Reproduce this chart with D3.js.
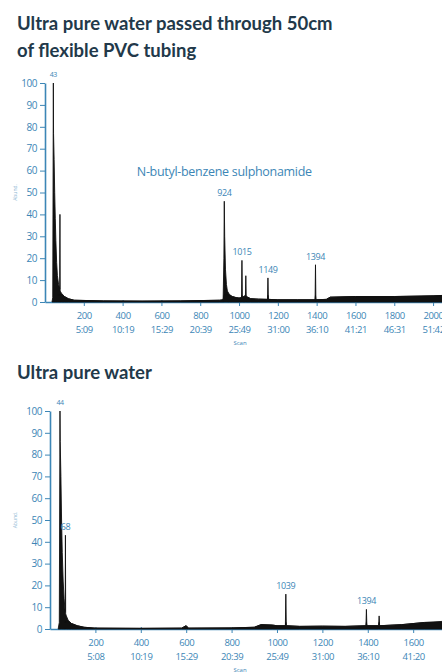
<!DOCTYPE html>
<html>
<head>
<meta charset="utf-8">
<script src="https://cdn.jsdelivr.net/npm/d3@7"></script>
<style>
  body { margin: 0; background: #fff; }
  svg { display: block; }
  .title { font-family: Lato, "Open Sans", sans-serif; font-weight: 700; font-size: 18.5px; fill: #22394a; }
  .axis path, .axis line { stroke: #3c86b6; }
  .axis text { font-family: "Open Sans", sans-serif; fill: #3c86b6; }
  .lbl { font-family: "Open Sans", sans-serif; fill: #3c86b6; }
</style>
</head>
<body>
<svg id="chart" width="442" height="672"></svg>
<script>
// ---- data ----
// top: water through PVC tubing  [scan, abundance %]
var pvcScans = [36, 40, 43, 44, 47, 50, 53, 56, 60, 64, 70, 76, 77, 78, 85, 100, 120, 150, 300, 500, 700, 900,
  918, 922, 924, 926, 930, 935, 940, 950, 965, 985, 1000, 1013, 1015, 1017, 1033, 1035, 1037, 1060, 1100,
  1147, 1149, 1151, 1200, 1300, 1392, 1394, 1396, 1450, 1470, 1600, 1800, 2000, 2050];
var pvcAbund = [0, 2, 100, 77, 65, 50, 38, 28, 18, 12, 8, 6, 40, 5, 4, 2.5, 1.5, 0.8, 0.5, 0.4, 0.5, 0.8,
  1, 20, 46, 30, 15, 8, 5, 3.5, 2.5, 2, 1.8, 2, 19, 2, 3, 12, 2.5, 1.5, 1.3,
  1.2, 11, 1.2, 1, 1, 1, 17, 1, 1.2, 2.2, 2.5, 2.5, 2.8, 3];
var pvcPeaks = [43, 924, 1015, 1149, 1394];
var pvcPeakVals = [100, 46, 19, 11, 17];
var pvcTicks = [200, 400, 600, 800, 1000, 1200, 1400, 1600, 1800, 2000];
var pvcTimes = ["5:09", "10:19", "15:29", "20:39", "25:49", "31:00", "36:10", "41:21", "46:31", "51:42"];

// bottom: ultra pure water
var upwScans = [36, 41, 44, 45, 48, 51, 54, 58, 62, 66, 67, 68, 69, 72, 80, 95, 120, 150, 200, 400, 580, 600, 610,
  800, 900, 930, 980, 1000, 1037, 1039, 1041, 1100, 1200, 1300, 1392, 1394, 1396, 1448, 1450, 1452, 1550, 1650, 1730];
var upwAbund = [0, 3, 100, 86, 70, 50, 35, 22, 14, 9, 8, 43, 7, 6, 4, 2.5, 1.5, 0.8, 0.4, 0.3, 0.4, 1.5, 0.4,
  0.5, 0.8, 2, 1.8, 1.5, 1.5, 16, 1.5, 1.2, 1.3, 1.2, 1.5, 9, 1.5, 1.5, 6, 1.5, 2, 3, 3.5];
var upwPeaks = [44, 68, 1039, 1394];
var upwPeakVals = [100, 43, 16, 9];
var upwTicks = [200, 400, 600, 800, 1000, 1200, 1400, 1600];
var upwTimes = ["5:08", "10:19", "15:29", "20:39", "25:49", "31:00", "36:10", "41:20"];

var yTicks = [0, 10, 20, 30, 40, 50, 60, 70, 80, 90, 100];

var svg = d3.select("#chart");

// titles
svg.append("text").attr("class", "title").attr("x", 17).attr("y", 30).text("Ultra pure water passed through 50cm");
svg.append("text").attr("class", "title").attr("x", 17).attr("y", 57).text("of flexible PVC tubing");
svg.append("text").attr("class", "title").attr("x", 17).attr("y", 379).text("Ultra pure water");

function drawChart(o) {
  var x = d3.scaleLinear().domain([0, o.xMax]).range([o.left, 442]);
  var y = d3.scaleLinear().domain([0, 100]).range([o.bottom, o.top]);
  var g = svg.append("g");

  // y axis
  var ya = g.append("g").attr("class", "axis")
    .attr("transform", "translate(" + o.left + ",0)")
    .call(d3.axisLeft(y).tickValues(yTicks).tickSize(5).tickPadding(3).tickSizeOuter(0));
  ya.select(".domain").attr("stroke-width", 1.6);
  ya.selectAll("text").style("font-size", "10px").style("letter-spacing", "-0.5px");

  // x axis
  var xa = g.append("g").attr("class", "axis")
    .attr("transform", "translate(0," + o.bottom + ")")
    .call(d3.axisBottom(x).tickValues(o.ticks).tickSize(4).tickSizeOuter(0).tickFormat(""));
  xa.select(".domain").attr("stroke-width", 1.4);
  xa.selectAll(".tick line").attr("y1", -2);
  xa.selectAll(".tick").each(function(d, i) {
    var t = d3.select(this);
    t.append("text").attr("y", 17).attr("text-anchor", "middle")
      .style("font-size", "9.5px").style("letter-spacing", "-0.4px").text(d);
    t.append("text").attr("y", 31).attr("text-anchor", "middle")
      .style("font-size", "9.5px").style("letter-spacing", "-0.4px").text(o.times[i]);
  });
  g.append("text").attr("class", "lbl").attr("x", 240).attr("y", o.bottom + 43)
    .attr("text-anchor", "middle").style("font-size", "6px").text("Scan");

  // tiny y label
  g.append("text").attr("class", "lbl")
    .attr("transform", "translate(17," + y(50) + ") rotate(-90)")
    .attr("text-anchor", "middle").style("font-size", "5px").attr("opacity", 0.6).text("Abund.");

  // trace
  var pts = o.scans.map(function(s, i) { return [s, o.abund[i]]; });
  var area = d3.area().x(function(d) { return x(d[0]); }).y0(y(0)).y1(function(d) { return y(d[1]); });
  g.append("path").datum(pts).attr("d", area)
    .attr("fill", "#111").attr("stroke", "#111").attr("stroke-width", 0.9).attr("stroke-linejoin", "miter");

  // baseline band along axis
  g.append("path").datum(pts.filter(function(d) { return d[0] > 60; }))
    .attr("d", d3.line().x(function(d) { return x(d[0]); }).y(function(d) { return y(Math.min(d[1], 3)); }))
    .attr("fill", "none").attr("stroke", "#111").attr("stroke-width", 1);

  // peak labels
  g.selectAll(".pk").data(o.peaks).enter().append("text").attr("class", "lbl")
    .attr("x", function(d) { return x(d); })
    .attr("y", function(d, i) { return y(o.peakVals[i]) - (o.peakVals[i] >= 100 ? 6 : 5); })
    .attr("text-anchor", "middle").style("font-size", function(d, i) { return o.peakVals[i] >= 100 ? "7px" : "9px"; })
    .style("letter-spacing", "-0.4px")
    .text(function(d) { return d; });

  return x;
}

var xTop = drawChart({ xMax: 2046, left: 45, top: 83, bottom: 302, ticks: pvcTicks, times: pvcTimes,
  scans: pvcScans, abund: pvcAbund, peaks: pvcPeaks, peakVals: pvcPeakVals });

svg.append("text").attr("class", "lbl").attr("x", xTop(924)).attr("y", 176)
  .attr("text-anchor", "middle").style("font-size", "12.5px").style("letter-spacing", "-0.3px")
  .text("N-butyl-benzene sulphonamide");

drawChart({ xMax: 1727, left: 50, top: 411, bottom: 629, ticks: upwTicks, times: upwTimes,
  scans: upwScans, abund: upwAbund, peaks: upwPeaks, peakVals: upwPeakVals });
</script>
</body>
</html>
